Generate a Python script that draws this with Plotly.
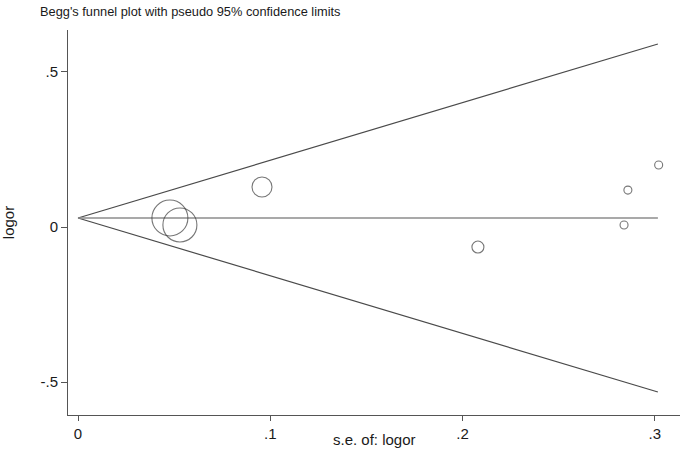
import plotly.graph_objects as go

# Study data
se = [0.0478, 0.0530, 0.0957, 0.2080, 0.2860, 0.2840, 0.3020]
logor = [0.029, 0.0065, 0.129, -0.0645, 0.119, 0.0065, 0.200]
msize = [36, 34, 20, 12, 8, 8, 8]

pooled = 0.029
se_max = 0.3016
upper_end = 0.590
lower_end = -0.532
x_ticks = [0, 0.1, 0.2, 0.3]
x_tick_labels = ["0", ".1", ".2", ".3"]
y_ticks = [-0.5, 0, 0.5]
y_tick_labels = ["-.5", "0", ".5"]

fig = go.Figure()
# pseudo 95% limits
fig.add_trace(go.Scatter(x=[0, se_max], y=[pooled, upper_end], mode="lines",
                         line=dict(color="#4a4a4a", width=1.2), hoverinfo="skip"))
fig.add_trace(go.Scatter(x=[0, se_max], y=[pooled, lower_end], mode="lines",
                         line=dict(color="#4a4a4a", width=1.2), hoverinfo="skip"))
fig.add_trace(go.Scatter(x=[0, se_max], y=[pooled, pooled], mode="lines",
                         line=dict(color="#8c8c8c", width=1.5), hoverinfo="skip"))
fig.add_trace(go.Scatter(x=se, y=logor, mode="markers",
                         marker=dict(size=msize, symbol="circle-open", color="#3c3c3c",
                                     line=dict(width=1.1, color="#3c3c3c"))))

font_family = "Liberation Sans, Arial, sans-serif"
mt, mb, ml, mr = 30, 35, 68, 1
plot_h = 450 - mt - mb
fig.update_layout(
    width=681, height=450,
    margin=dict(l=ml, r=mr, t=mt, b=mb),
    plot_bgcolor="white", paper_bgcolor="white",
    showlegend=False,
    font=dict(family=font_family, color="#1a1a1a", size=15),
    title=dict(text="Begg's funnel plot with pseudo 95% confidence limits",
               x=40 / 681, xanchor="left", y=1 - 12 / 450, yanchor="middle",
               font=dict(size=12.8, family=font_family, color="#1a1a1a")),
    xaxis=dict(range=[-0.0052, 0.3131], tickvals=x_ticks, ticktext=x_tick_labels,
               showgrid=False, zeroline=False, showline=True, linecolor="#555555", linewidth=1,
               ticks="outside", ticklen=5, tickcolor="#555555", tickfont=dict(size=15)),
    yaxis=dict(range=[-0.606, 0.635], tickvals=y_ticks, ticktext=y_tick_labels,
               showgrid=False, zeroline=False, showline=True, linecolor="#555555", linewidth=1,
               ticks="outside", ticklen=6, tickcolor="#555555", tickfont=dict(size=15),
               title=dict(text="logor", font=dict(size=15), standoff=22)),
    annotations=[dict(text="s.e. of: logor", xref="paper", yref="paper",
                      x=0.5, y=-(439 - (450 - mb)) / plot_h, xanchor="center", yanchor="middle",
                      showarrow=False, font=dict(size=15, family=font_family, color="#1a1a1a"))],
)
fig.write_html("out.html", config={"displayModeBar": False},
               post_script="document.body.style.margin='0px';")
